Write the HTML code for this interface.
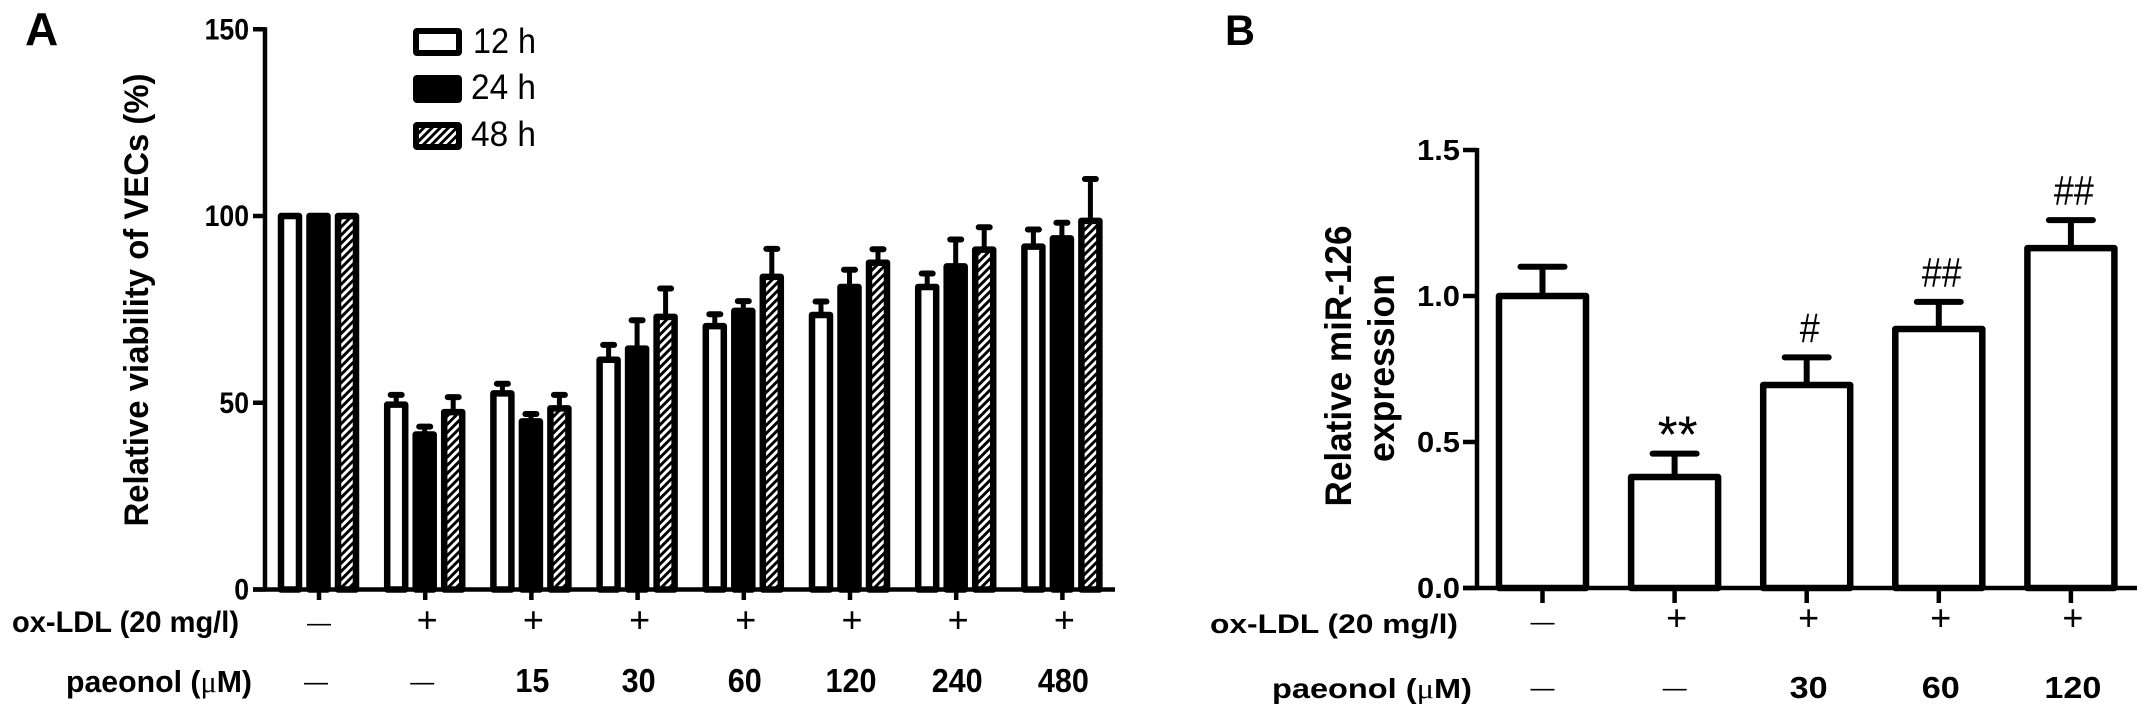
<!DOCTYPE html>
<html lang="en">
<head>
<meta charset="utf-8">
<title>Paeonol viability and miR-126 expression</title>
<style>
html,body{margin:0;padding:0;background:#fff;width:2150px;height:717px;overflow:hidden}
svg{display:block}
text{font-family:"Liberation Sans",Arial,sans-serif;fill:#000}
.b{font-weight:bold}
</style>
</head>
<body>
<svg id="fig" xmlns="http://www.w3.org/2000/svg" width="2150" height="717" viewBox="0 0 2150 717">
<defs>
<pattern id="hatch" width="5.8" height="5.8" patternUnits="userSpaceOnUse" patternTransform="rotate(45)">
<rect width="5.8" height="5.8" fill="#fff"></rect>
<rect width="2.9" height="5.8" fill="#000"></rect>
</pattern>
</defs>
<rect width="2150" height="717" fill="#fff"></rect>

<text class="b" x="25" y="45" font-size="46">A</text>
<text class="b" x="1225" y="45" font-size="43" textLength="30" lengthAdjust="spacingAndGlyphs">B</text>

<text class="b" transform="rotate(-90 148 300)" x="148" y="300" font-size="34" text-anchor="middle" textLength="453" lengthAdjust="spacingAndGlyphs">Relative viability of VECs (%)</text>
<text class="b" transform="rotate(-90 1351 366)" x="1351" y="366" font-size="37" text-anchor="middle" textLength="281" lengthAdjust="spacingAndGlyphs">Relative miR-126</text>
<text class="b" transform="rotate(-90 1394 368)" x="1394" y="368" font-size="37" text-anchor="middle" textLength="188" lengthAdjust="spacingAndGlyphs">expression</text>

<text class="b" x="12" y="632" font-size="30" textLength="227" lengthAdjust="spacingAndGlyphs">ox-LDL (20 mg/l)</text>
<text class="b" x="66" y="692" font-size="31" textLength="186" lengthAdjust="spacingAndGlyphs">paeonol (<tspan font-family="'Liberation Serif',serif" font-weight="normal">μ</tspan>M)</text>
<text class="b" x="1210" y="633" font-size="27" textLength="248" lengthAdjust="spacingAndGlyphs">ox-LDL (20 mg/l)</text>
<text class="b" x="1272" y="698" font-size="28" textLength="200" lengthAdjust="spacingAndGlyphs">paeonol (<tspan font-family="'Liberation Serif',serif" font-weight="normal">μ</tspan>M)</text>

<g>
<rect x="416" y="31" width="43" height="22" rx="1" fill="#fff" stroke="#000" stroke-width="6" stroke-linejoin="round"></rect>
<text x="473" y="53" font-size="35" textLength="63" lengthAdjust="spacingAndGlyphs">12 h</text>
<rect x="416" y="78" width="43" height="22" rx="1" fill="#000" stroke="#000" stroke-width="6" stroke-linejoin="round"></rect>
<text x="471" y="99" font-size="35" textLength="65" lengthAdjust="spacingAndGlyphs">24 h</text>
<rect x="416" y="125" width="43" height="22" rx="1" fill="url(#hatch)" stroke="#000" stroke-width="6" stroke-linejoin="round"></rect>
<text x="471" y="146" font-size="35" textLength="65" lengthAdjust="spacingAndGlyphs">48 h</text>
</g>
<g id="chartA"></g>
<g id="chartB"></g>
</svg>
<script>
// Panel A data
var aTicks = [0, 50, 100, 150];
var aOxLdl = ['—', '+', '+', '+', '+', '+', '+', '+'];
var aPaeonol = ['—', '—', '15', '30', '60', '120', '240', '480'];
var aSeries12h = [100, 49.5, 52.5, 61.5, 70.5, 73.5, 81, 91.8];
var aSeries24h = [100, 41.5, 45, 64.5, 74.6, 81, 86.5, 94];
var aSeries48h = [100, 47.5, 48.5, 73, 83.7, 87.5, 91, 98.7];
var aErr12h = [0, 2.6, 2.6, 4, 3.2, 3.6, 3.6, 4.6];
var aErr24h = [0, 2.1, 2, 7.6, 2.6, 4.6, 7.2, 4.2];
var aErr48h = [0, 4, 3.6, 7.6, 7.5, 3.6, 6, 11.2];

// Panel B data
var bTicks = ['0.0', '0.5', '1.0', '1.5'];
var bOxLdl = ['—', '+', '+', '+', '+'];
var bPaeonol = ['—', '—', '30', '60', '120'];
var bValues = [1.0, 0.38, 0.695, 0.887, 1.164];
var bErrors = [0.1, 0.08, 0.095, 0.093, 0.096];
var bMarks = ['', '**', '#', '##', '##'];

var NS = 'http://www.w3.org/2000/svg';
function mk(parent, tag, props, text) {
  var el = document.createElementNS(NS, tag);
  for (var k in props) el.setAttribute(k, props[k]);
  if (text !== undefined) el.textContent = text;
  parent.appendChild(el);
  return el;
}

// Axis functions
function yA(v) { return 589.5 - 3.735 * v; }
function xA(g) { return 319 + 106.2 * g; }
function yB(v) { return 588 - 292 * v; }
function xB(i) { return 1542.5 + 132.1 * i; }

var gA = document.getElementById('chartA');
var gB = document.getElementById('chartB');

// Panel A bars
var aSeries = [aSeries12h, aSeries24h, aSeries48h];
var aErrors = [aErr12h, aErr24h, aErr48h];
var aFills = ['#fff', '#000', 'url(#hatch)'];
var aOffsets = [-29, -0.5, 28];
var aKeys = ['12h', '24h', '48h'];
aSeries.forEach(function (vals, s) {
  vals.forEach(function (v, g) {
    var c = xA(g) + aOffsets[s];
    var top = yA(v);
    if (aErrors[s][g] > 0) {
      var e = yA(v + aErrors[s][g]);
      var stem = mk(gA, 'line', {x1: c, x2: c, y1: top, y2: e, stroke: '#000', 'stroke-width': 5});
      
      
      var cap = mk(gA, 'line', {x1: c - 5.5, x2: c + 5.5, y1: e, y2: e, stroke: '#000', 'stroke-width': 6, 'stroke-linecap': 'round'});
      
      
    }
    var bar = mk(gA, 'rect', {x: c - 9, y: top, width: 18, height: yA(0) - top, fill: aFills[s], stroke: '#000', 'stroke-width': 6.5, 'stroke-linejoin': 'round'});
    
    
  });
});

// Panel A axes
var aYAxis = mk(gA, 'line', {x1: 265, x2: 265, y1: yA(150) - 2, y2: yA(0) + 2, stroke: '#000', 'stroke-width': 4.5});


var aXAxis = mk(gA, 'line', {x1: 253, x2: 1115, y1: yA(0), y2: yA(0), stroke: '#000', 'stroke-width': 4.5});


aTicks.forEach(function (t) {
  var tick = mk(gA, 'line', {x1: 253, x2: 265, y1: yA(t), y2: yA(t), stroke: '#000', 'stroke-width': 4.5});
  
  
  var lab = mk(gA, 'text', {x: 249, y: yA(t) + 10, 'font-size': 30, 'font-weight': 'bold', 'text-anchor': 'end', textLength: String(t).length * 14.8, lengthAdjust: 'spacingAndGlyphs'}, String(t));
  
  
});

function rowLabel(parent, s, cx, yRow, prefix, boldSize, charWidth) {
  var el;
  if (s === '—') {
    el = mk(parent, 'text', {x: cx, y: yRow + 8, 'font-size': 24, 'text-anchor': 'middle'}, s);
  } else if (s === '+') {
    el = mk(parent, 'text', {x: cx + 2, y: yRow + 12, 'font-size': 36, 'text-anchor': 'middle'}, s);
  } else {
    el = mk(parent, 'text', {x: cx, y: yRow + 10, 'font-size': boldSize, 'font-weight': 'bold', 'text-anchor': 'middle', textLength: s.length * charWidth, lengthAdjust: 'spacingAndGlyphs'}, s);
  }
  
  
  return el;
}

aOxLdl.forEach(function (s, g) {
  var tick = mk(gA, 'line', {x1: xA(g), x2: xA(g), y1: yA(0), y2: 600, stroke: '#000', 'stroke-width': 4.5});
  
  
  rowLabel(gA, s, xA(g), s === '—' ? 623 : 620, 'panel-a-ox-ldl-value-' + g, 30, 17);
});
aPaeonol.forEach(function (s, g) {
  rowLabel(gA, s, xA(g) - (g < 2 ? 3 : -1), 682, 'panel-a-paeonol-value-' + g, 33, 17);
});

// Panel B bars
bValues.forEach(function (v, i) {
  var c = xB(i);
  var top = yB(v);
  var e = yB(v + bErrors[i]);
  var stem = mk(gB, 'line', {x1: c, x2: c, y1: top, y2: e, stroke: '#000', 'stroke-width': 6});
  
  
  var cap = mk(gB, 'line', {x1: c - 22, x2: c + 22, y1: e, y2: e, stroke: '#000', 'stroke-width': 6, 'stroke-linecap': 'round'});
  
  
  var bar = mk(gB, 'rect', {x: c - 43.5, y: top, width: 87, height: yB(0) - top, fill: '#fff', stroke: '#000', 'stroke-width': 6.5, 'stroke-linejoin': 'round'});
  
  
  if (bMarks[i]) {
    var m = bMarks[i];
    var mark;
    if (m === '**') {
      mark = mk(gB, 'text', {x: c + 3, y: e - 1, 'font-size': 52, 'text-anchor': 'middle', textLength: 40, lengthAdjust: 'spacingAndGlyphs'}, m);
    } else {
      mark = mk(gB, 'text', {x: c + 3, y: e - 15, 'font-size': 42, 'text-anchor': 'middle', textLength: m.length * 20, lengthAdjust: 'spacingAndGlyphs'}, m);
    }
    
    
  }
});

// Panel B axes
var bYAxis = mk(gB, 'line', {x1: 1477, x2: 1477, y1: yB(1.5) - 2, y2: yB(0) + 2, stroke: '#000', 'stroke-width': 4.5});


var bXAxis = mk(gB, 'line', {x1: 1463, x2: 2137, y1: yB(0), y2: yB(0), stroke: '#000', 'stroke-width': 4.5});


bTicks.forEach(function (t) {
  var v = parseFloat(t);
  var tick = mk(gB, 'line', {x1: 1463, x2: 1477, y1: yB(v), y2: yB(v), stroke: '#000', 'stroke-width': 4.5});
  
  
  var lab = mk(gB, 'text', {x: 1460, y: yB(v) + 10, 'font-size': 29, 'font-weight': 'bold', 'text-anchor': 'end', textLength: 43, lengthAdjust: 'spacingAndGlyphs'}, t);
  
  
});
bOxLdl.forEach(function (s, i) {
  var tick = mk(gB, 'line', {x1: xB(i), x2: xB(i), y1: yB(0), y2: 603, stroke: '#000', 'stroke-width': 4.5});
  
  
  rowLabel(gB, s, xB(i), s === '—' ? 622 : 618, 'panel-b-ox-ldl-value-' + i, 30, 19);
});
bPaeonol.forEach(function (s, i) {
  rowLabel(gB, s, xB(i) + (i > 1 ? 2 : 0), 688, 'panel-b-paeonol-value-' + i, 31, 19);
});
</script>
</body>
</html>
